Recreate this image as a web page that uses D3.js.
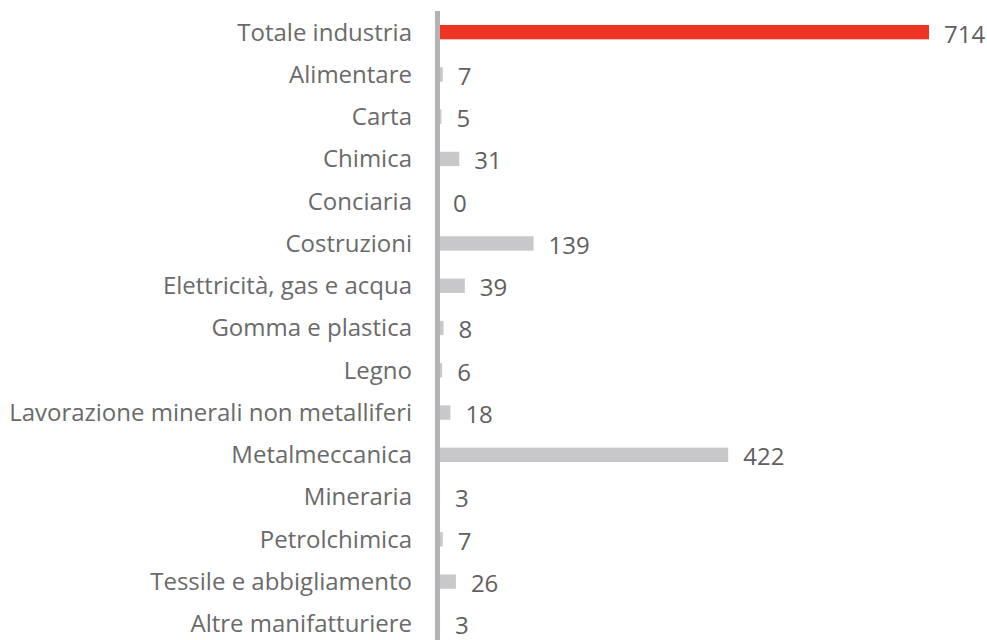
<!DOCTYPE html>
<html>
    <head>
        <meta charset="utf-8">
        <title>Infortuni per settore</title>
        <script type="text/javascript" src="https://d3js.org/d3.v7.min.js"></script>
        <style>
            body {margin: 0; background: #ffffff;}
            svg text {font-family: "Open Sans", sans-serif; font-size: 24px; fill: #6a6a6a;}
            svg text.val {fill: #606060;}
        </style>
    </head>
    <body>
        <script>
            // Dati
            var categorie = ["Totale industria", "Alimentare", "Carta", "Chimica", "Conciaria",
                "Costruzioni", "Elettricità, gas e acqua", "Gomma e plastica", "Legno",
                "Lavorazione minerali non metalliferi", "Metalmeccanica", "Mineraria",
                "Petrolchimica", "Tessile e abbigliamento", "Altre manifatturiere"];
            var valori = [714, 7, 5, 31, 0, 139, 39, 8, 6, 18, 422, 3, 7, 26, 3];

            var width = 987, height = 640;

            var svg = d3.select("body")
                .append("svg")
                .attr("width", width)
                .attr("height", height);

            var x = d3.scaleLinear()
                .domain([0, 714])
                .range([438, 929]);

            var y = d3.scaleBand()
                .domain(categorie)
                .range([11, 645])
                .paddingInner(0.66)
                .paddingOuter(0.33);

            var righe = categorie.map(function(c, i) { return {cat: c, val: valori[i]}; });

            // barre
            svg.selectAll("rect.barra")
                .data(righe)
                .enter()
                .append("rect")
                .attr("class", "barra")
                .attr("x", x(0))
                .attr("y", function(d) { return y(d.cat); })
                .attr("width", function(d) { return x(d.val) - x(0); })
                .attr("height", y.bandwidth())
                .attr("fill", function(d, i) { return i == 0 ? "#ee3524" : "#c8c8ca"; });

            // asse verticale (sopra le barre)
            svg.append("line")
                .attr("x1", 437.5).attr("x2", 437.5)
                .attr("y1", 11).attr("y2", height)
                .attr("stroke", "#b3b3b6")
                .attr("stroke-width", 5);

            // etichette categorie
            svg.selectAll("text.cat")
                .data(righe)
                .enter()
                .append("text")
                .attr("class", "cat")
                .attr("x", 412)
                .attr("y", function(d) { return y(d.cat) + y.bandwidth() / 2; })
                .attr("dy", "0.35em")
                .attr("text-anchor", "end")
                .text(function(d) { return d.cat; });

            // valori
            svg.selectAll("text.val")
                .data(righe)
                .enter()
                .append("text")
                .attr("class", "val")
                .attr("x", function(d) { return x(d.val) + 15; })
                .attr("y", function(d) { return y(d.cat) + y.bandwidth() / 2 + 2; })
                .attr("dy", "0.35em")
                .text(function(d) { return d.val; });
        </script>
    </body>
</html>
